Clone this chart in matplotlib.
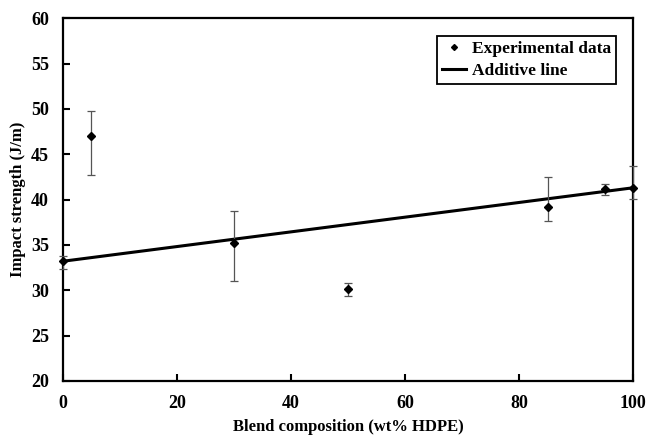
import numpy as np
import matplotlib.pyplot as plt
from matplotlib.lines import Line2D

# blend composition (wt% HDPE) and impact strength (J/m)
comp = [0, 5, 30, 50, 85, 95, 100]
strength = [33.2, 47.0, 35.2, 30.1, 39.2, 41.2, 41.3]
err_low = [0.8, 4.3, 4.2, 0.7, 1.6, 0.7, 1.2]
err_high = [0.6, 2.8, 3.5, 0.7, 3.3, 0.5, 2.4]

line_x = [0, 100]
line_y = [33.2, 41.3]

plt.rcParams['font.family'] = ['Liberation Serif', 'DejaVu Serif']
plt.rcParams['font.weight'] = 'bold'

fig = plt.figure(figsize=(6.46, 4.44), dpi=100)
ax = fig.add_axes([0.0975, 0.142, 0.8825, 0.817])

eb = ax.errorbar(comp, strength, yerr=[err_low, err_high], fmt='D', color='black',
                 ms=4, ecolor='#555555', elinewidth=0.9, capsize=3, capthick=0.9,
                 zorder=3)
for art in [eb[0]] + list(eb[1]) + list(eb[2]):
    art.set_clip_on(False)
ax.plot(line_x, line_y, color='black', lw=2.2, zorder=2)

ax.set_xlim(0, 100)
ax.set_ylim(20, 60)
ax.set_xticks(np.arange(0, 101, 20))
ax.set_yticks(np.arange(20, 61, 5))
ax.tick_params(direction='in', length=5, width=1.5, labelsize=13, pad=10)
for lab in ax.get_xticklabels() + ax.get_yticklabels():
    lab.set_fontweight('bold')
for s in ax.spines.values():
    s.set_linewidth(1.6)

ax.set_xlabel('Blend composition (wt% HDPE)', fontsize=12, fontweight='bold', labelpad=5)
ax.set_ylabel('Impact strength (J/m)', fontsize=12, fontweight='bold', labelpad=4)

handles = [Line2D([], [], ls='none', marker='D', ms=3, color='black'),
           Line2D([], [], color='black', lw=2.2)]
leg = ax.legend(handles, ['Experimental data', 'Additive line'], loc='upper right',
                bbox_to_anchor=(0.985, 0.975), fontsize=12.5,
                fancybox=False, edgecolor='black', framealpha=1,
                handlelength=1.4, handletextpad=0.3, borderpad=0.3, labelspacing=0.3)
leg.get_frame().set_linewidth(1.3)
for t in leg.get_texts():
    t.set_fontweight('bold')

fig.savefig('out.png', dpi=100)
